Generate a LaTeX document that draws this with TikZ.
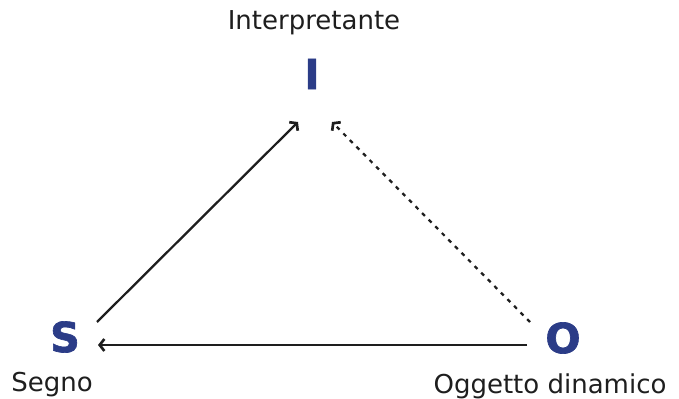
\documentclass[tikz,border=0pt]{standalone}
\usepackage{fontspec}
\setmainfont{DejaVu Sans}
\newfontfamily\heavyfont{DejaVu Sans}[UprightFont={* Bold},FakeBold=1.6]
\usetikzlibrary{arrows.meta}
\definecolor{letblue}{HTML}{2B3C87}
\definecolor{ink}{HTML}{1E1E1E}
\begin{document}
\begin{tikzpicture}[x=0.75pt,y=-0.75pt,
  lbl/.style={font=\fontsize{19.5}{22}\selectfont, text=ink, inner sep=0pt, anchor=base},
  big/.style={font=\heavyfont\fontsize{31}{34}\selectfont, text=letblue, inner sep=0pt},
  arr/.style={draw=ink, line width=1.7pt, -{Straight Barb[length=3.5pt,width=9pt,line width=2pt]}},
  dotarr/.style={arr, dash pattern=on 3pt off 4pt}]
\useasboundingbox (0,0) rectangle (679,399);
\node[big] (I) at (312,74) {I};
\node[big] (S) at (65,337) {S};
\node[big] (O) at (563,338) {O};
\node[lbl] (lI) at (314,30) {Interpretante};
\node[lbl] (lS) at (52,392) {Segno};
\node[lbl] (lO) at (550,393) {Oggetto dinamico};
\draw[arr] ([shift={(32,-15)}]S.center) -- ([shift={(-14,48)}]I.center);
\draw[dotarr] ([shift={(-33,-16)}]O.center) -- ([shift={(20,48)}]I.center);
\draw[arr] ([shift={(-36,7)}]O.center) -- ([shift={(33,8)}]S.center);
\end{tikzpicture}
\end{document}
